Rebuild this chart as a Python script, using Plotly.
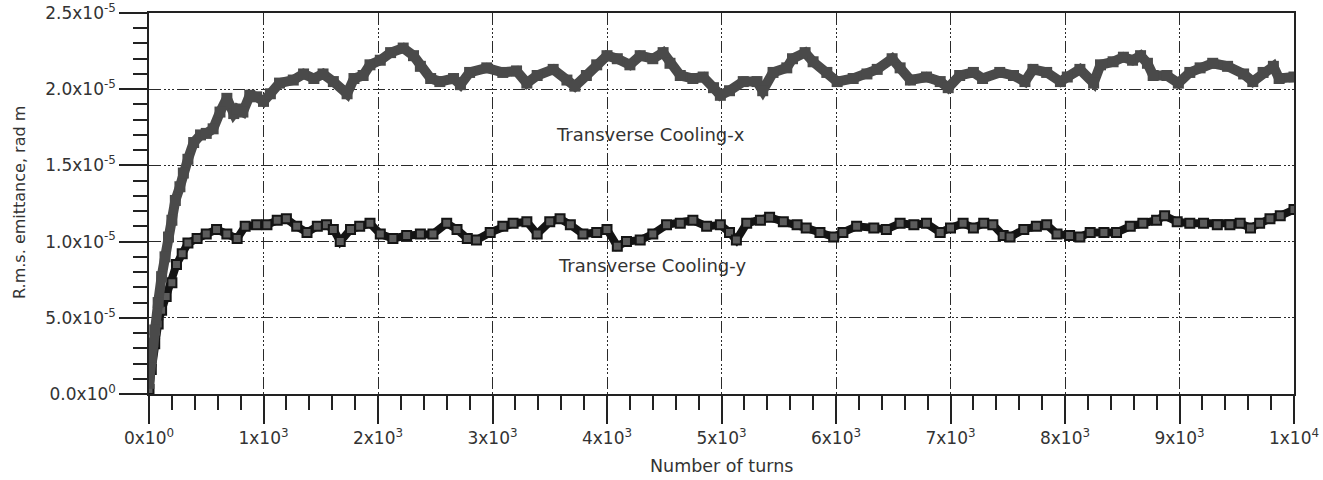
import plotly.graph_objects as go

# Emittance values are stored in units of 1e-5 rad m
EMIT_UNIT = 1e-5

turns_x = [0, 20, 50, 80, 110, 140, 170, 200, 230, 270, 300, 340, 390, 450, 500, 560,
           620, 680, 740, 770, 820, 880, 940, 1000, 1060, 1140, 1260, 1350, 1440, 1520,
           1610, 1730, 1790, 1870, 1930, 2020, 2110, 2220, 2310, 2370, 2460, 2540, 2660,
           2720, 2800, 2950, 3090, 3210, 3300, 3390, 3530, 3650, 3720, 3820, 3910, 4000,
           4090, 4200, 4290, 4400, 4490, 4550, 4640, 4750, 4840, 4930, 4990, 5070, 5190,
           5310, 5360, 5450, 5570, 5620, 5730, 5800, 5920, 6010, 6150, 6270, 6360, 6490,
           6560, 6650, 6790, 6910, 6980, 7080, 7200, 7280, 7430, 7550, 7650, 7720, 7840,
           7960, 8020, 8130, 8250, 8310, 8420, 8510, 8590, 8660, 8720, 8770, 8890, 8990,
           9090, 9180, 9290, 9420, 9560, 9640, 9730, 9820, 9870, 10000]
emit_x = [0.07, 0.24, 0.42, 0.60, 0.77, 0.90, 1.03, 1.14, 1.27, 1.36, 1.45, 1.54, 1.65,
          1.70, 1.71, 1.74, 1.85, 1.94, 1.84, 1.87, 1.85, 1.96, 1.95, 1.92, 1.97, 2.04,
          2.06, 2.10, 2.07, 2.10, 2.05, 1.97, 2.07, 2.09, 2.16, 2.19, 2.24, 2.27, 2.22,
          2.15, 2.07, 2.05, 2.07, 2.03, 2.11, 2.14, 2.11, 2.12, 2.04, 2.09, 2.13, 2.06,
          2.02, 2.09, 2.16, 2.22, 2.20, 2.16, 2.22, 2.20, 2.24, 2.17, 2.09, 2.07, 2.08,
          2.01, 1.96, 1.99, 2.05, 2.05, 1.99, 2.11, 2.14, 2.20, 2.24, 2.18, 2.11, 2.05,
          2.07, 2.10, 2.13, 2.20, 2.14, 2.06, 2.08, 2.05, 2.01, 2.09, 2.11, 2.07, 2.11,
          2.09, 2.05, 2.13, 2.11, 2.05, 2.08, 2.13, 2.04, 2.16, 2.18, 2.21, 2.19, 2.22,
          2.17, 2.09, 2.09, 2.04, 2.11, 2.14, 2.17, 2.15, 2.10, 2.05, 2.11, 2.15, 2.07,
          2.08]

turns_y = [0, 20, 50, 80, 110, 150, 200, 240, 290, 340, 420, 500, 590, 680, 770, 840,
           940, 1030, 1120, 1200, 1290, 1380, 1470, 1550, 1610, 1670, 1760, 1840, 1930,
           2020, 2130, 2250, 2370, 2480, 2600, 2690, 2780, 2860, 2980, 3090, 3180, 3300,
           3390, 3500, 3590, 3680, 3790, 3910, 4000, 4090, 4170, 4290, 4400, 4520, 4640,
           4750, 4870, 4990, 5070, 5130, 5220, 5340, 5420, 5540, 5660, 5740, 5860, 5980,
           6060, 6180, 6330, 6440, 6560, 6680, 6790, 6910, 7000, 7110, 7200, 7290, 7370,
           7460, 7520, 7640, 7750, 7840, 7930, 8040, 8130, 8220, 8340, 8450, 8570, 8680,
           8800, 8870, 8980, 9090, 9210, 9330, 9440, 9530, 9620, 9700, 9790, 9880, 10000]
emit_y = [0.03, 0.16, 0.33, 0.46, 0.55, 0.64, 0.73, 0.85, 0.92, 0.99, 1.02, 1.05, 1.08,
          1.05, 1.02, 1.10, 1.11, 1.11, 1.14, 1.15, 1.10, 1.06, 1.10, 1.11, 1.08, 1.00,
          1.08, 1.10, 1.12, 1.05, 1.02, 1.04, 1.05, 1.05, 1.12, 1.08, 1.02, 1.01, 1.06,
          1.10, 1.12, 1.13, 1.05, 1.13, 1.15, 1.11, 1.05, 1.06, 1.08, 0.97, 1.00, 1.01,
          1.05, 1.11, 1.12, 1.14, 1.10, 1.11, 1.06, 1.01, 1.12, 1.14, 1.16, 1.13, 1.11,
          1.09, 1.06, 1.03, 1.06, 1.10, 1.09, 1.08, 1.12, 1.11, 1.12, 1.06, 1.09, 1.12,
          1.09, 1.12, 1.11, 1.04, 1.03, 1.08, 1.10, 1.11, 1.05, 1.04, 1.03, 1.06, 1.06,
          1.06, 1.10, 1.12, 1.14, 1.17, 1.13, 1.12, 1.12, 1.11, 1.11, 1.12, 1.09, 1.12,
          1.15, 1.17, 1.21]

x_tick_vals = [0, 1000, 2000, 3000, 4000, 5000, 6000, 7000, 8000, 9000, 10000]
x_tick_text = ["0x10<sup>0</sup>", "1x10<sup>3</sup>", "2x10<sup>3</sup>", "3x10<sup>3</sup>",
               "4x10<sup>3</sup>", "5x10<sup>3</sup>", "6x10<sup>3</sup>", "7x10<sup>3</sup>",
               "8x10<sup>3</sup>", "9x10<sup>3</sup>", "1x10<sup>4</sup>"]
y_tick_vals = [0.0, 0.5e-5, 1.0e-5, 1.5e-5, 2.0e-5, 2.5e-5]
y_tick_text = ["0.0x10<sup>0</sup>", "5.0x10<sup>-5</sup>", "1.0x10<sup>-5</sup>",
               "1.5x10<sup>-5</sup>", "2.0x10<sup>-5</sup>", "2.5x10<sup>-5</sup>"]

FONT = "DejaVu Sans"
TEXT_COLOR = "#333333"
AXIS_COLOR = "#222222"
GRID_DASH = "12px,3px,2px,2px,2px,2px,2px,3px"

fig = go.Figure()

fig.add_trace(go.Scatter(
    x=turns_y, y=[v * EMIT_UNIT for v in emit_y],
    mode="lines+markers",
    line=dict(color="#141414", width=8),
    marker=dict(symbol="square", size=9, color="#5c5c5c",
                line=dict(color="#141414", width=2)),
    showlegend=False,
))

fig.add_trace(go.Scatter(
    x=turns_x, y=[v * EMIT_UNIT for v in emit_x],
    mode="lines+markers",
    line=dict(color="#4a4a4a", width=10),
    marker=dict(symbol="square", size=11, color="#4a4a4a",
                line=dict(color="#4a4a4a", width=0)),
    showlegend=False,
))

fig.add_annotation(x=4380, y=1.70e-5, text="Transverse Cooling-x", showarrow=False,
                   font=dict(family=FONT, size=18, color=TEXT_COLOR))
fig.add_annotation(x=4390, y=0.84e-5, text="Transverse Cooling-y", showarrow=False,
                   font=dict(family=FONT, size=18, color=TEXT_COLOR))

# Axis titles placed explicitly in paper coordinates
fig.add_annotation(xref="paper", yref="paper", x=0.5, y=-0.189,
                   xanchor="center", yanchor="middle", text="Number of turns",
                   showarrow=False, font=dict(family=FONT, size=17.5, color=TEXT_COLOR))
fig.add_annotation(xref="paper", yref="paper", x=-0.1127, y=0.504,
                   xanchor="center", yanchor="middle",
                   text="R.m.s. emittance, rad m", textangle=-90, showarrow=False,
                   font=dict(family=FONT, size=16, color=TEXT_COLOR))

common_axis = dict(
    automargin=False,
    showline=True, linecolor=AXIS_COLOR, linewidth=1.5, mirror=True,
    ticks="outside", ticklen=28, tickwidth=1.5, tickcolor=AXIS_COLOR,
    showgrid=True, gridcolor="#2a2a2a", gridwidth=1, griddash=GRID_DASH,
    zeroline=False, tickfont=dict(family=FONT, size=17, color=TEXT_COLOR),
)

fig.update_xaxes(
    range=[0, 10000], tickmode="array", tickvals=x_tick_vals, ticktext=x_tick_text,
    minor=dict(tickmode="linear", tick0=0, dtick=200, ticks="outside", ticklen=14,
               tickwidth=1.5, tickcolor=AXIS_COLOR, showgrid=False),
    **common_axis,
)
fig.update_yaxes(
    range=[0, 2.5e-5], tickmode="array", tickvals=y_tick_vals, ticktext=y_tick_text,
    minor=dict(tickmode="linear", tick0=0, dtick=0.1e-5, ticks="outside", ticklen=14,
               tickwidth=1.5, tickcolor=AXIS_COLOR, showgrid=False),
    **common_axis,
)

fig.update_layout(
    width=1323, height=480,
    margin=dict(l=149, r=29, t=13, b=86),
    paper_bgcolor="white", plot_bgcolor="white",
    font=dict(family=FONT, color=TEXT_COLOR),
)

fig.write_html("out.html")
